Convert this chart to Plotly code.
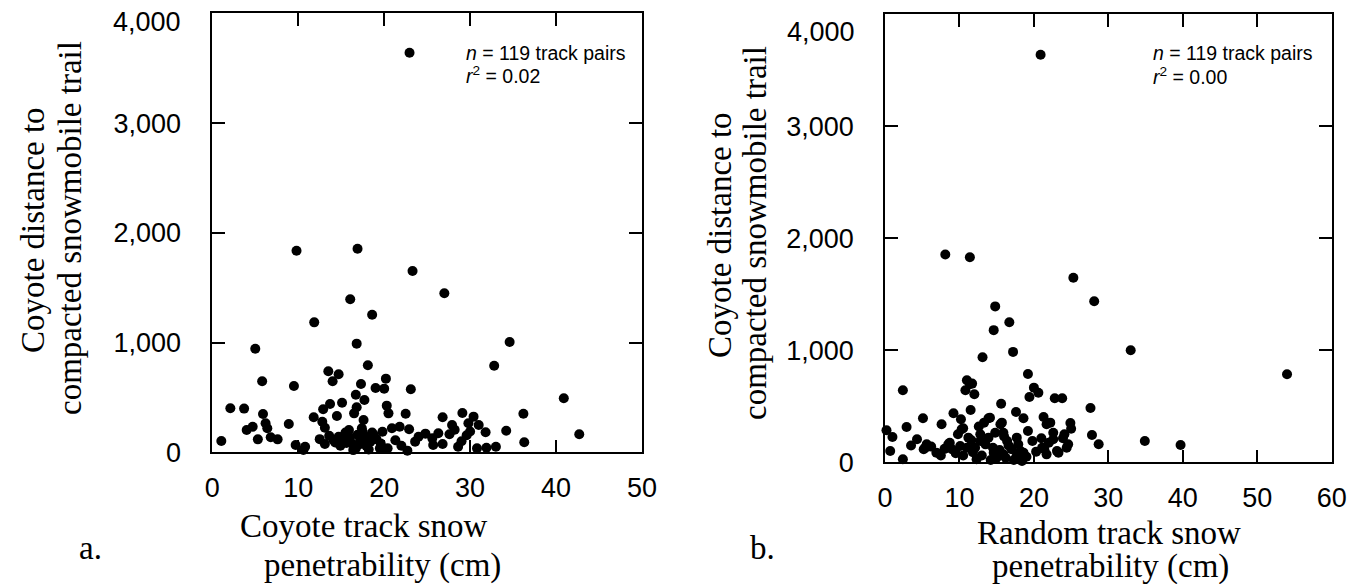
import plotly.graph_objects as go

# ---------------- data ----------------
# Panel a: coyote track snow penetrability (cm) vs distance to compacted trail
coyote_pen = [22.95, 9.8, 16.9, 23.3, 27.0, 16.05, 18.6, 11.86, 5.0, 16.8, 34.6, 32.8, 5.8, 9.5, 13.5,
              14.7, 14.0, 18.1, 17.3, 19.0, 20.2, 20.0, 23.1, 16.7, 17.7, 40.9, 2.1, 3.7, 12.9, 13.7,
              15.1, 16.8, 20.3, 20.5, 5.9, 11.8, 14.5, 16.5, 22.5, 36.2, 29.1, 26.8, 30.4, 6.2, 8.9,
              12.8, 13.1, 17.6, 27.9, 29.8, 31.0, 4.0, 4.7, 6.4, 15.9, 17.4, 19.8, 20.9, 21.8, 22.9,
              31.8, 34.2, 42.7, 27.6, 29.6, 1.05, 5.3, 6.8, 7.6, 9.7, 10.8, 10.6, 13.1, 14.1, 14.7,
              15.3, 15.8, 16.2, 16.7, 17.2, 17.8, 18.4, 18.8, 19.5, 20.4, 22.7, 23.6, 24.0, 25.6, 25.7,
              26.3, 26.8, 28.6, 30.8, 31.9, 33.0, 36.3, 12.5, 13.6, 14.3, 14.9, 15.5, 15.6, 16.0, 16.4,
              16.9, 17.0, 17.5, 17.9, 18.2, 18.6, 19.1, 19.6, 21.3, 22.0, 24.8, 28.2, 29.0, 30.0]
coyote_dist = [3641, 1837, 1855, 1652, 1449, 1394, 1254, 1184, 944, 990, 1005, 789, 647, 604, 738,
               711, 647, 793, 622, 586, 671, 580, 574, 525, 477, 492, 401, 398, 392, 440,
               452, 410, 425, 355, 349, 319, 331, 355, 352, 352, 358, 319, 325, 264, 258,
               279, 224, 294, 249, 264, 249, 203, 233, 219, 203, 219, 188, 219, 233, 210,
               182, 197, 164, 164, 155, 103, 118, 137, 118, 67, 51, 21, 76, 112, 142,
               112, 158, 82, 36, 112, 142, 97, 158, 36, 36, 15, 97, 142, 127, 67,
               173, 76, 51, 36, 42, 51, 91, 120, 150, 90, 60, 180, 85, 130, 20,
               160, 70, 185, 60, 25, 180, 120, 80, 110, 60, 170, 205, 100, 190]

# Panel b: random track snow penetrability (cm) vs distance to compacted trail
random_pen = [20.9, 8.1, 11.4, 25.3, 28.1, 14.8, 16.7, 14.6, 17.2, 13.1, 33.0, 54.0, 19.2, 11.0, 11.7,
              2.4, 10.8, 12.0, 20.0, 20.6, 19.4, 22.8, 23.8, 15.6, 27.6, 11.5, 9.2, 17.6, 18.6, 5.1,
              10.2, 13.9, 21.3, 13.3, 22.2, 24.9, 7.6, 2.9, 10.5, 15.5, 0.2, 1.0, 12.8, 15.9, 19.2,
              22.6, 24.1, 27.8, 4.3, 17.7, 21.0, 22.6, 34.9, 39.7, 28.7, 0.7, 2.4, 5.4, 6.9, 8.5,
              9.0, 10.1, 11.0, 12.3, 12.1, 12.8, 14.6, 15.0, 15.9, 17.0, 17.7, 18.4, 18.6, 17.9, 21.1,
              21.7, 23.3, 24.4, 24.6, 14.5, 13.9, 16.4, 11.6, 5.6, 5.2, 8.7, 10.3, 11.4, 11.2, 14.1,
              15.7, 14.8, 18.2, 21.7, 21.4, 23.1, 7.5, 8.0, 9.5, 10.5, 11.8, 13.0, 13.5, 14.2, 15.4,
              16.2, 16.6, 17.3, 19.0, 19.8, 20.3, 22.0, 23.9, 25.0, 3.5, 6.2, 12.6, 16.0, 9.8]
random_dist = [3637, 1854, 1830, 1646, 1437, 1391, 1250, 1179, 985, 937, 1000, 786, 788, 732, 702,
               643, 643, 607, 666, 621, 583, 571, 571, 523, 485, 467, 437, 449, 393, 393,
               384, 393, 404, 354, 354, 351, 339, 315, 304, 339, 286, 226, 250, 264, 279,
               264, 250, 244, 205, 220, 214, 205, 190, 154, 161, 101, 27, 130, 86, 161,
               116, 146, 130, 27, 130, 190, 86, 41, 71, 116, 56, 12, 86, 161, 130,
               71, 86, 130, 161, 130, 220, 190, 196, 161, 116, 175, 295, 696, 220, 398,
               354, 264, 100, 340, 116, 100, 60, 120, 80, 60, 90, 60, 160, 20, 110,
               40, 150, 20, 50, 190, 95, 175, 215, 300, 150, 140, 320, 230, 250]

y_ticks = [0, 1000, 2000, 3000]
y_labels = ["0", "1,000", "2,000", "3,000"]
y_top = 4000            # top of the axis; its label is placed slightly below the corner
y_top_label = "4,000"
xa_ticks = [0, 10, 20, 30, 40, 50]
xb_ticks = [0, 10, 20, 30, 40, 50, 60]

W, H = 1357, 584
OFF = 8  # page body margin offset
def px(x):
    return (x - OFF) / W
def py(y):
    return 1 - (y - OFF) / H

SANS = "Liberation Sans, Arial, sans-serif"
SERIF = "Liberation Serif, Times New Roman, serif"

fig = go.Figure()
marker = dict(size=10, color="black", line=dict(width=0))
fig.add_trace(go.Scatter(x=coyote_pen, y=coyote_dist, mode="markers", marker=marker,
                         xaxis="x", yaxis="y", cliponaxis=False, showlegend=False))
fig.add_trace(go.Scatter(x=random_pen, y=random_dist, mode="markers", marker=marker,
                         xaxis="x2", yaxis="y2", cliponaxis=False, showlegend=False))

axis_common = dict(showline=True, linecolor="black", linewidth=1.5, mirror="ticks",
                   ticks="inside", ticklen=13, tickwidth=1.5, tickcolor="black",
                   showgrid=False, zeroline=False, automargin=False,
                   ticklabeloverflow="allow",
                   tickfont=dict(family=SANS, size=27, color="black"))

fig.update_layout(
    width=W, height=H,
    margin=dict(l=0, r=0, t=0, b=0, pad=0),
    paper_bgcolor="white", plot_bgcolor="white",
    xaxis=dict(domain=[px(212.3), px(642)], range=[0, 50], tickvals=xa_ticks,
               anchor="y", ticklabelstandoff=11, **axis_common),
    yaxis=dict(domain=[py(452.3), py(13.3)], range=[0, y_top], tickvals=y_ticks, ticktext=y_labels,
               anchor="x", ticklabelstandoff=24, **axis_common),
    xaxis2=dict(domain=[px(885), px(1331.7)], range=[0, 60], tickvals=xb_ticks,
                anchor="y2", ticklabelstandoff=11, **axis_common),
    yaxis2=dict(domain=[py(462.3), py(14)], range=[0, y_top], tickvals=y_ticks, ticktext=y_labels,
                anchor="x2", ticklabelstandoff=24, **axis_common),
)

# top y tick labels (drawn slightly below the 4,000 corner as in the original)
fig.add_annotation(text=y_top_label, xref="x domain", yref="y", x=0, y=y_top,
                   xanchor="right", yanchor="middle", xshift=-29, yshift=-9, showarrow=False,
                   font=dict(family=SANS, size=27, color="black"))
fig.add_annotation(text=y_top_label, xref="x2 domain", yref="y2", x=0, y=y_top,
                   xanchor="right", yanchor="middle", xshift=-28, yshift=-18, showarrow=False,
                   font=dict(family=SANS, size=27, color="black"))

def ann(text, x, y, size, family, xanchor="center", yanchor="middle", angle=0):
    fig.add_annotation(text=text, x=px(x), y=py(y), xref="paper", yref="paper",
                       showarrow=False, xanchor=xanchor, yanchor=yanchor, textangle=angle,
                       borderpad=0, font=dict(family=family, size=size, color="black"))

# stats text
ann("<i>n</i> = 119 track pairs", 465, 53, 19.5, SANS, xanchor="left")
ann("<i>r</i><sup>2</sup> = 0.02", 465, 75, 19.5, SANS, xanchor="left")
ann("<i>n</i> = 119 track pairs", 1152, 53, 19.5, SANS, xanchor="left")
ann("<i>r</i><sup>2</sup> = 0.00", 1152, 76, 19.5, SANS, xanchor="left")

# axis titles
ann("Coyote distance to", 33, 230, 33, SERIF, angle=-90)
ann("compacted snowmobile trail", 70, 228, 33, SERIF, angle=-90)
ann("Coyote distance to", 720, 235, 33, SERIF, angle=-90)
ann("compacted snowmobile trail", 755, 233, 33, SERIF, angle=-90)

ann("Coyote track snow", 364, 526, 33, SERIF)
ann("penetrability (cm)", 382, 565, 33, SERIF)
ann("Random track snow", 1109, 533, 33, SERIF)
ann("penetrability (cm)", 1110, 566, 33, SERIF)

ann("a.", 90, 548, 33, SERIF)
ann("b.", 762, 548, 33, SERIF)

fig.write_html("out.html")
